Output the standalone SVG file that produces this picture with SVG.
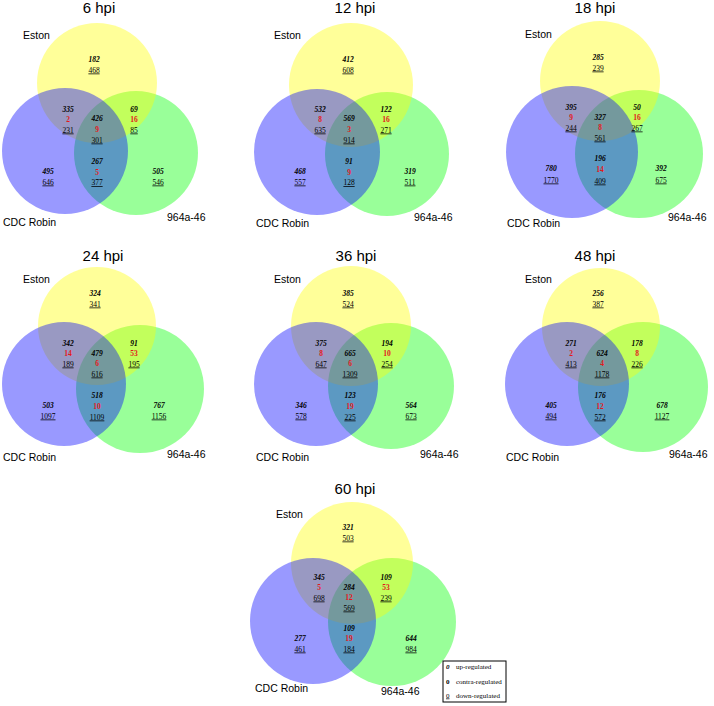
<svg xmlns="http://www.w3.org/2000/svg" width="714" height="706" viewBox="0 0 714 706">
<style>
.bg{fill:#ffffff}
.cy{fill:#ffff00;fill-opacity:0.4}
.cb{fill:#0000ff;fill-opacity:0.4}
.cg{fill:#00ff00;fill-opacity:0.4}
.t{font-family:"Liberation Sans",Arial,sans-serif;font-size:15px;text-anchor:middle;fill:#000}
.l{font-family:"Liberation Sans",Arial,sans-serif;font-size:10.5px;fill:#000}
.u{font-family:"Liberation Serif","Times New Roman",serif;font-size:7.5px;font-weight:bold;font-style:italic;text-anchor:middle;fill:#000}
.c{font-family:"Liberation Serif","Times New Roman",serif;font-size:7.5px;font-weight:bold;text-anchor:middle;fill:#e31a1c}
.d{font-family:"Liberation Serif","Times New Roman",serif;font-size:7.5px;text-anchor:middle;text-decoration:underline;fill:#000}
.lg{font-family:"Liberation Serif","Times New Roman",serif;font-size:7px;fill:#000}
</style>
<rect class="bg" x="0" y="0" width="714" height="706"/>

<g id="p6hpi">
<circle class="cg" cx="136" cy="153" r="62"/><circle class="cy" cx="97" cy="83" r="60"/><circle class="cb" cx="65" cy="151" r="63"/>
<text class="t" x="99" y="13">6 hpi</text>
<text class="l" x="23" y="39">Eston</text><text class="l" x="3" y="226">CDC Robin</text><text class="l" x="167" y="221">964a-46</text>
<text class="u" x="94" y="61.5">182</text><text class="d" x="94" y="72.5">468</text>
<text class="u" x="68" y="111.5">335</text><text class="c" x="68" y="122">2</text><text class="d" x="68" y="132.5">231</text>
<text class="u" x="97" y="120.5">426</text><text class="c" x="97" y="131.5">9</text><text class="d" x="97" y="142.5">301</text>
<text class="u" x="134" y="111.5">69</text><text class="c" x="134" y="122">16</text><text class="d" x="134" y="132.5">85</text>
<text class="u" x="48" y="173.5">495</text><text class="d" x="48" y="184.5">646</text>
<text class="u" x="97" y="163.5">267</text><text class="c" x="97" y="174.5">5</text><text class="d" x="97" y="185">377</text>
<text class="u" x="158" y="173.5">505</text><text class="d" x="158" y="184.5">546</text>
</g>

<g id="p12hpi">
<circle class="cg" cx="387" cy="154" r="62"/><circle class="cy" cx="351" cy="85" r="62"/><circle class="cb" cx="317" cy="152" r="63"/>
<text class="t" x="355" y="13">12 hpi</text>
<text class="l" x="274" y="39">Eston</text><text class="l" x="256" y="227">CDC Robin</text><text class="l" x="414" y="221">964a-46</text>
<text class="u" x="348" y="61.5">412</text><text class="d" x="348" y="72.5">608</text>
<text class="u" x="320" y="111.5">532</text><text class="c" x="320" y="122">8</text><text class="d" x="320" y="132.5">635</text>
<text class="u" x="349" y="120.5">569</text><text class="c" x="349" y="131.5">3</text><text class="d" x="349" y="142.5">914</text>
<text class="u" x="386" y="111.5">122</text><text class="c" x="386" y="122">16</text><text class="d" x="386" y="132.5">271</text>
<text class="u" x="300" y="173.5">468</text><text class="d" x="300" y="184.5">557</text>
<text class="u" x="349" y="163.5">91</text><text class="c" x="349" y="174.5">9</text><text class="d" x="349" y="185">128</text>
<text class="u" x="410" y="173.5">319</text><text class="d" x="410" y="184.5">511</text>
</g>

<g id="p18hpi">
<circle class="cg" cx="639" cy="154" r="64"/><circle class="cy" cx="600" cy="81" r="60"/><circle class="cb" cx="572" cy="152" r="66"/>
<text class="t" x="595" y="13">18 hpi</text>
<text class="l" x="525" y="38">Eston</text><text class="l" x="507" y="227">CDC Robin</text><text class="l" x="668" y="221">964a-46</text>
<text class="u" x="598" y="59.5">285</text><text class="d" x="598" y="70.5">239</text>
<text class="u" x="571" y="109.5">395</text><text class="c" x="571" y="120">9</text><text class="d" x="571" y="130.5">244</text>
<text class="u" x="600" y="119.5">327</text><text class="c" x="600" y="130">8</text><text class="d" x="600" y="140.5">561</text>
<text class="u" x="637" y="109.5">50</text><text class="c" x="637" y="120">16</text><text class="d" x="637" y="130.5">267</text>
<text class="u" x="551" y="170.5">780</text><text class="d" x="551" y="182.5">1770</text>
<text class="u" x="600" y="160.5">196</text><text class="c" x="600" y="171.5">14</text><text class="d" x="600" y="183.5">409</text>
<text class="u" x="661" y="170.5">392</text><text class="d" x="661" y="182.5">675</text>
</g>

<g id="p24hpi">
<circle class="cg" cx="140" cy="389" r="64"/><circle class="cy" cx="97" cy="326" r="59"/><circle class="cb" cx="64" cy="384" r="62"/>
<text class="t" x="103" y="261">24 hpi</text>
<text class="l" x="23" y="283">Eston</text><text class="l" x="3" y="461">CDC Robin</text><text class="l" x="167" y="458">964a-46</text>
<text class="u" x="95" y="295.5">324</text><text class="d" x="95" y="306.5">341</text>
<text class="u" x="68" y="345.5">342</text><text class="c" x="68" y="355.5">14</text><text class="d" x="68" y="366.5">189</text>
<text class="u" x="97" y="355.5">479</text><text class="c" x="97" y="365.5">6</text><text class="d" x="97" y="376.5">616</text>
<text class="u" x="134" y="345.5">91</text><text class="c" x="134" y="355.5">53</text><text class="d" x="134" y="366.5">195</text>
<text class="u" x="48" y="407.5">503</text><text class="d" x="48" y="418.5">1097</text>
<text class="u" x="97" y="397.5">518</text><text class="c" x="97" y="408.5">10</text><text class="d" x="97" y="419.5">1109</text>
<text class="u" x="159" y="407.5">767</text><text class="d" x="159" y="418.5">1156</text>
</g>

<g id="p36hpi">
<circle class="cg" cx="391" cy="386" r="63"/><circle class="cy" cx="351" cy="326" r="60"/><circle class="cb" cx="316" cy="384" r="62"/>
<text class="t" x="356" y="261">36 hpi</text>
<text class="l" x="274" y="283">Eston</text><text class="l" x="256" y="461">CDC Robin</text><text class="l" x="420" y="458">964a-46</text>
<text class="u" x="348" y="295.5">385</text><text class="d" x="348" y="306.5">524</text>
<text class="u" x="321" y="345.5">375</text><text class="c" x="321" y="355.5">8</text><text class="d" x="321" y="366.5">647</text>
<text class="u" x="350" y="355.5">665</text><text class="c" x="350" y="365.5">6</text><text class="d" x="350" y="376.5">1309</text>
<text class="u" x="387" y="345.5">194</text><text class="c" x="387" y="355.5">10</text><text class="d" x="387" y="366.5">254</text>
<text class="u" x="301" y="407.5">346</text><text class="d" x="301" y="418.5">578</text>
<text class="u" x="350" y="397.5">123</text><text class="c" x="350" y="408.5">19</text><text class="d" x="350" y="419.5">225</text>
<text class="u" x="411" y="407.5">564</text><text class="d" x="411" y="418.5">673</text>
</g>

<g id="p48hpi">
<circle class="cg" cx="643" cy="387" r="65"/><circle class="cy" cx="601" cy="327" r="59"/><circle class="cb" cx="567" cy="384" r="62"/>
<text class="t" x="595" y="261">48 hpi</text>
<text class="l" x="525" y="283">Eston</text><text class="l" x="506" y="461">CDC Robin</text><text class="l" x="669" y="458">964a-46</text>
<text class="u" x="598" y="295.5">256</text><text class="d" x="598" y="306.5">387</text>
<text class="u" x="571" y="345.5">271</text><text class="c" x="571" y="355.5">2</text><text class="d" x="571" y="366.5">413</text>
<text class="u" x="602" y="355.5">624</text><text class="c" x="602" y="365.5">4</text><text class="d" x="602" y="376.5">1178</text>
<text class="u" x="637" y="345.5">178</text><text class="c" x="637" y="355.5">8</text><text class="d" x="637" y="366.5">226</text>
<text class="u" x="551" y="407.5">405</text><text class="d" x="551" y="418.5">494</text>
<text class="u" x="600" y="397.5">176</text><text class="c" x="600" y="408.5">12</text><text class="d" x="600" y="419.5">572</text>
<text class="u" x="662" y="407.5">678</text><text class="d" x="662" y="418.5">1127</text>
</g>

<g id="p60hpi">
<circle class="cg" cx="392" cy="622" r="64"/><circle class="cy" cx="352" cy="563" r="61"/><circle class="cb" cx="313" cy="621" r="63"/>
<text class="t" x="355" y="494">60 hpi</text>
<text class="l" x="276" y="518">Eston</text><text class="l" x="255" y="692">CDC Robin</text><text class="l" x="381" y="695">964a-46</text>
<text class="u" x="348" y="529.5">321</text><text class="d" x="348" y="540.5">503</text>
<text class="u" x="319" y="579.5">345</text><text class="c" x="319" y="589.5">5</text><text class="d" x="319" y="600.5">698</text>
<text class="u" x="349" y="589.5">284</text><text class="c" x="349" y="599.5">12</text><text class="d" x="349" y="610.5">569</text>
<text class="u" x="386" y="579.5">109</text><text class="c" x="386" y="589.5">53</text><text class="d" x="386" y="600.5">239</text>
<text class="u" x="300" y="640.5">277</text><text class="d" x="300" y="651.5">461</text>
<text class="u" x="349" y="630.5">109</text><text class="c" x="349" y="640.5">19</text><text class="d" x="349" y="651.5">184</text>
<text class="u" x="411" y="640.5">644</text><text class="d" x="411" y="651.5">984</text>
</g>

<g id="legend">
<rect x="443" y="661" width="63" height="41" fill="#ffffff" stroke="#000000" stroke-width="1"/>
<text class="lg" x="446" y="668.5" font-weight="bold" font-style="italic">0</text><text class="lg" x="456" y="668.5">up-regulated</text>
<text class="lg" x="446" y="684" font-weight="bold" fill="#e31a1c">0</text><text class="lg" x="456" y="684">contra-regulated</text>
<text class="lg" x="446" y="697.5" text-decoration="underline">0</text><text class="lg" x="456" y="697.5">down-regulated</text>
</g>
</svg>
